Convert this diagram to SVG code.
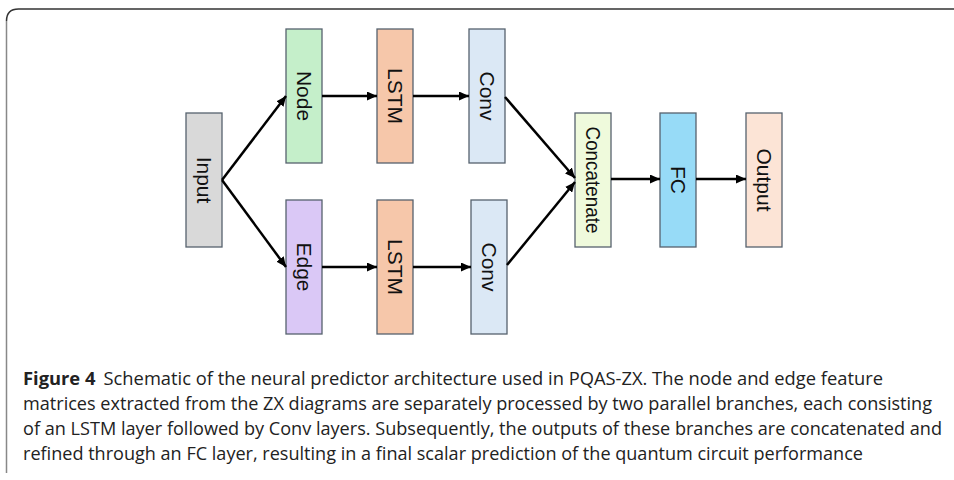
<svg xmlns="http://www.w3.org/2000/svg" width="954" height="480" viewBox="0 0 954 480">
<defs>
<marker id="ah" markerUnits="userSpaceOnUse" markerWidth="11" markerHeight="9" refX="10" refY="4.5" orient="auto">
<path d="M0,0 L10,4.5 L0,9 z" fill="#000"/>
</marker>
<style>
.box{stroke:#56626e;stroke-width:1.3}
.lbl{font-family:"Liberation Sans",Arial,sans-serif;font-size:21px;fill:#111;text-anchor:middle;dominant-baseline:central}
.conn path{fill:none;stroke:#000;stroke-width:2.5;marker-end:url(#ah)}
.cap{font-family:"Open Sans","Noto Sans",sans-serif;font-size:18px;fill:#222}
</style>
</defs>
<rect width="954" height="480" fill="#fff"/>
<path d="M6.5 21 Q6.5 9 18.5 9 H954" fill="none" stroke="#333" stroke-width="1.5"/>
<path d="M6.5 21 V473" fill="none" stroke="#888" stroke-width="1.5"/>

<g id="input"><rect class="box" x="186" y="113" width="36" height="134" fill="#d9d9d9"/><text class="lbl" transform="translate(204,180) rotate(90)">Input</text></g>
<g id="node"><rect class="box" x="286" y="29" width="36" height="134" fill="#c5efca"/><text class="lbl" transform="translate(304,96) rotate(90)">Node</text></g>
<g id="lstm1"><rect class="box" x="377" y="29" width="36" height="134" fill="#f6c7aa"/><text class="lbl" transform="translate(395,96) rotate(90)">LSTM</text></g>
<g id="conv1"><rect class="box" x="469" y="29" width="36" height="134" fill="#dbe8f5"/><text class="lbl" transform="translate(487,96) rotate(90)">Conv</text></g>
<g id="edge"><rect class="box" x="286" y="200" width="36" height="134" fill="#dac8f6"/><text class="lbl" transform="translate(304,267) rotate(90)">Edge</text></g>
<g id="lstm2"><rect class="box" x="377" y="200" width="36" height="134" fill="#f6c7aa"/><text class="lbl" transform="translate(395,267) rotate(90)">LSTM</text></g>
<g id="conv2"><rect class="box" x="471" y="200" width="36" height="134" fill="#dbe8f5"/><text class="lbl" transform="translate(489,267) rotate(90)">Conv</text></g>
<g id="concat"><rect class="box" x="575" y="113" width="36" height="134" fill="#effadc"/><text class="lbl" transform="translate(593,180) rotate(90)" textLength="107" lengthAdjust="spacingAndGlyphs">Concatenate</text></g>
<g id="fc"><rect class="box" x="660" y="113" width="36" height="134" fill="#97dbf7"/><text class="lbl" transform="translate(678,180) rotate(90)">FC</text></g>
<g id="output"><rect class="box" x="746" y="113" width="36" height="134" fill="#fce4d6"/><text class="lbl" transform="translate(764,180) rotate(90)">Output</text></g>

<g id="connectors" class="conn">
<path d="M222,180 L286,96"/>
<path d="M222,180 L286,267"/>
<path d="M322,96 L377,96"/>
<path d="M413,96 L469,96"/>
<path d="M322,267 L377,267"/>
<path d="M413,267 L471,267"/>
<path d="M505,97 L575,178"/>
<path d="M507,265 L575,182"/>
<path d="M611,179 L660,179"/>
<path d="M696,179 L746,179"/>
</g>

<g id="caption" class="cap">
<text x="23" y="385" textLength="860" lengthAdjust="spacingAndGlyphs"><tspan font-weight="bold">Figure 4</tspan><tspan dx="8">Schematic of the neural predictor architecture used in PQAS-ZX. The node and edge feature</tspan></text>
<text x="23" y="410" textLength="909" lengthAdjust="spacingAndGlyphs">matrices extracted from the ZX diagrams are separately processed by two parallel branches, each consisting</text>
<text x="23" y="435" textLength="919" lengthAdjust="spacingAndGlyphs">of an LSTM layer followed by Conv layers. Subsequently, the outputs of these branches are concatenated and</text>
<text x="23" y="460" textLength="840" lengthAdjust="spacingAndGlyphs">refined through an FC layer, resulting in a final scalar prediction of the quantum circuit performance</text>
</g>
</svg>
